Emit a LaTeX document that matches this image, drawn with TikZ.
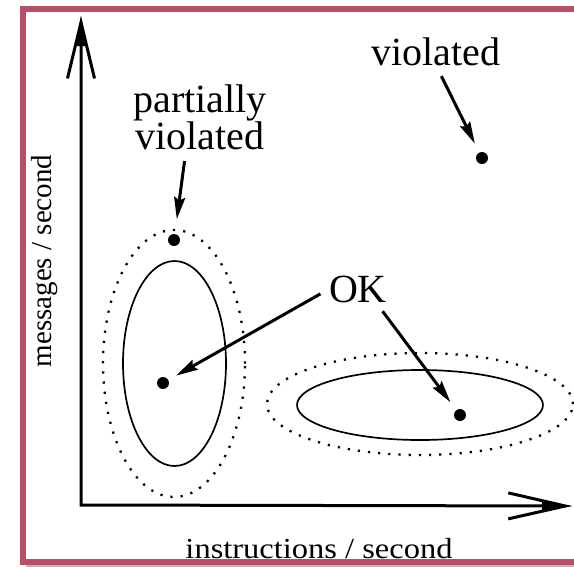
\documentclass[tikz,border=0pt]{standalone}
\usepackage{fontspec}
\setmainfont{Liberation Serif}
\usetikzlibrary{arrows.meta}
\definecolor{framecol}{RGB}{186,78,104}
\begin{document}
\begin{tikzpicture}[x=1pt,y=-1pt,
  big/.style={font=\fontsize{40}{37}\selectfont, inner sep=0pt, outer sep=0pt},
  small/.style={font=\fontsize{29}{30}\selectfont, inner sep=0pt, outer sep=0pt},
  dotpt/.style={circle, fill=black, minimum size=12pt, inner sep=0pt, outer sep=0pt},
  ptr/.style={line width=3pt, -{Stealth[length=22pt,width=11pt,inset=3pt]}},
  axis/.style={line width=3pt},
  region/.style={line width=1.7pt},
  tol/.style={line width=2.3pt, dash pattern=on 2.2pt off 8pt},
  frameline/.style={line width=6pt, draw=framecol},
]
\useasboundingbox (0,0) rectangle (574,566);
\clip (0,0) rectangle (574,566);

% tolerance and acceptance regions
\draw[tol] (174,363.5) ellipse [x radius=71pt, y radius=133.5pt];
\draw[region] (174.5,363.5) ellipse [x radius=51.5pt, y radius=102.5pt];
\draw[tol] (420,404) ellipse [x radius=153pt, y radius=51pt];
\draw[region] (420,405) ellipse [x radius=123pt, y radius=35pt];

% axes
\coordinate (yt) at (81,16);
\coordinate (corner) at (81,505);
\coordinate (xt) at (572,506);
\draw[axis, {Straight Barb[length=56pt,width=27pt,line width=3pt]}-{Straight Barb[length=57pt,width=26pt,line width=3pt]}] (yt) -- (corner) -- (xt);
\fill (yt) -- ++(-5,30) -- ++(10,0) -- cycle;
\fill (xt) -- ++(-30,-5) -- ++(0,10) -- cycle;

% axis labels
\node[small, rotate=90, anchor=base] (ylab) at (52,261) {messages / second};
\node[small, anchor=base, xscale=1.12] (xlab) at (319,558) {instructions / second};

% labels
\node[big, anchor=base] (viol) at (436,65) {violated};
\node[big, anchor=north, align=center] (pv) at (200,85) {partially\\violated};
\node[big, anchor=base] (ok) at (358,302) {OK};

% points
\node[dotpt] (vd) at (482,158) {};
\node[dotpt] (pd) at (174,240) {};
\node[dotpt] (od1) at (163,383) {};
\node[dotpt] (od2) at (460,415) {};

% pointers
\draw[ptr, shorten <=12pt, shorten >=10pt] (viol.south) -- (vd);
\draw[ptr, shorten <=11pt, shorten >=15pt] ([xshift=-14pt]pv.south) -- (pd);
\draw[ptr, shorten <=10pt, shorten >=9pt] (ok.west) -- (od1);
\draw[ptr, shorten <=11pt, shorten >=10pt] ([xshift=18pt]ok.south) -- (od2);

% frame
\draw[gray!55, line width=2pt] (26,565.5) -- (600,565.5);
\draw[frameline] (600,9) -- (23,9) -- (23,561.5) -- (600,561.5);
\end{tikzpicture}
\end{document}
